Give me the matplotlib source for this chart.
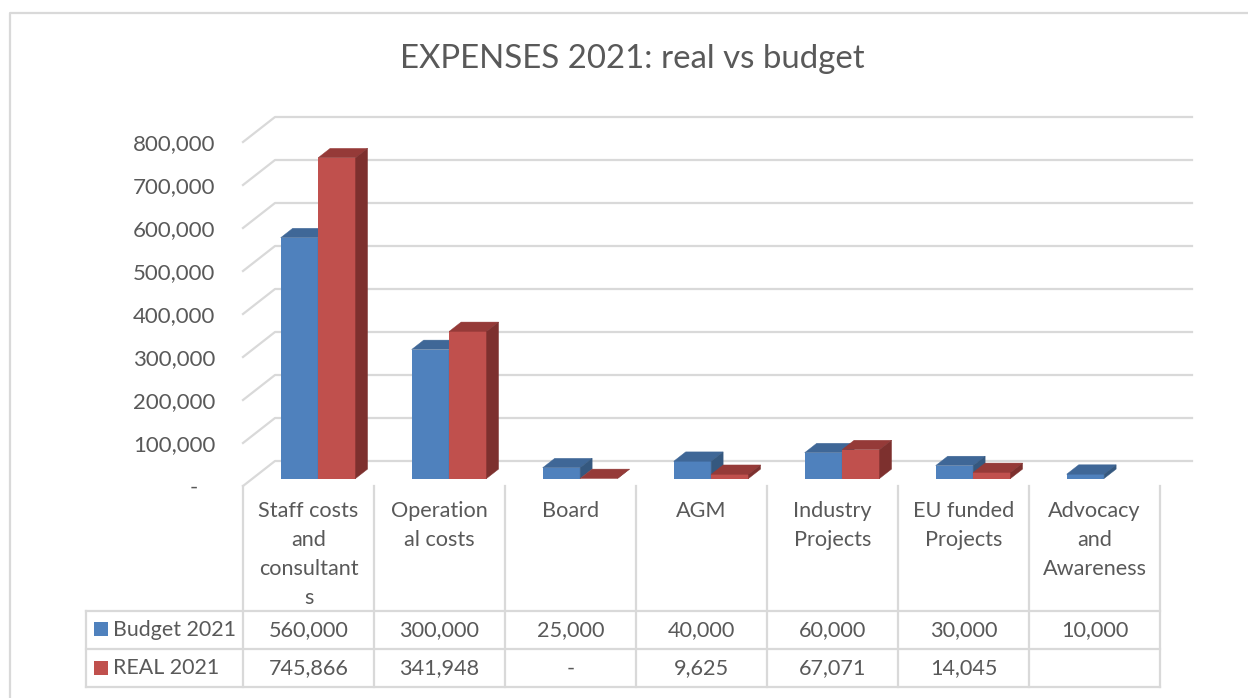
import matplotlib
matplotlib.use('Agg')
import matplotlib.pyplot as plt
from matplotlib.patches import Rectangle

plt.rcParams['font.family'] = ['Lato', 'DejaVu Sans']

# Data
categories = ['Staff costs\nand\nconsultant\ns', 'Operation\nal costs', 'Board', 'AGM',
              'Industry\nProjects', 'EU funded\nProjects', 'Advocacy\nand\nAwareness']
budget = [560000, 300000, 25000, 40000, 60000, 30000, 10000]
real = [745866, 341948, 0, 9625, 67071, 14045, None]
budget_cells = ['560,000', '300,000', '25,000', '40,000', '60,000', '30,000', '10,000']
real_cells = ['745,866', '341,948', '-', '9,625', '67,071', '14,045', '']
series_names = ['Budget 2021', 'REAL 2021']
y_ticks = [0, 100000, 200000, 300000, 400000, 500000, 600000, 700000, 800000]
y_labels = ['-   ', '100,000', '200,000', '300,000', '400,000', '500,000', '600,000', '700,000', '800,000']

W, H = 1248, 698
TEXT = '#595959'
GRID = '#d9d9d9'
BLUE = ('#4f81bd', '#3f6797', '#35587f')
RED = ('#c0504d', '#953a38', '#7d302e')
LW = 1.6

# pixel geometry of the fake 3d chart
left, right = 243, 1160
y0_px, y800_px = 486, 142
px_per_val = (y0_px - y800_px) / 800000
px_per_cat = (right - left) / len(categories)
wall_dy = 25      # depth of the walls, vertical px
slant = 32 / 25   # horizontal px per vertical px of depth
base_dy = 7.5     # bars stand this far back from the front plane
bar_dy = 9.4      # depth of a bar
bar_w = 1 / 3.5
margin = 1.5 / 3.5 / 2


def shift(x, y, dy):
    # move a data point back in depth
    return x + dy * slant / px_per_cat, y + dy / px_per_val


fig = plt.figure(figsize=(W / 100, H / 100), dpi=100)
fig.patch.set_facecolor('white')

# page layer: frame, table lines, table text
page = fig.add_axes([0, 0, 1, 1], zorder=0)
page.set_xlim(0, W)
page.set_ylim(H, 0)
page.axis('off')

page.plot([9.5, 9.5, W], [H, 12.5, 12.5], color=GRID, lw=LW)
for y in [611, 649, 687]:
    page.plot([86, right], [y, y], color=GRID, lw=LW)
page.plot([86, 86], [611, 687], color=GRID, lw=LW)
for i in range(len(categories) + 1):
    x = left + i * px_per_cat
    page.plot([x, x], [y0_px, 687], color=GRID, lw=LW)

page.text(632, 59, 'EXPENSES 2021: real vs budget', fontsize=23.8, color=TEXT, ha='center', va='center')

rows = [(budget_cells, 630.5, BLUE[0], 622, series_names[0]), (real_cells, 668.5, RED[0], 660.5, series_names[1])]
for cells, y, col, key_y, name in rows:
    page.add_patch(Rectangle((94, key_y), 14, 14, facecolor=col, edgecolor='none'))
    page.text(113, y - 1, name, fontsize=15.4, color=TEXT, ha='left', va='center')
    for i, c in enumerate(cells):
        page.text(left + (i + 0.5) * px_per_cat, y, c, fontsize=15.6, color=TEXT, ha='center', va='center')

# chart layer
ax = fig.add_axes([left / W, 1 - y0_px / H, (right - left) / W, (y0_px - y800_px) / H], zorder=1)
ax.patch.set_alpha(0)
ax.set_xlim(0, len(categories))
ax.set_ylim(0, 800000)
for s in ax.spines.values():
    s.set_visible(False)
ax.set_yticks(y_ticks)
ax.set_yticklabels(y_labels, fontsize=16, color=TEXT)
ax.set_xticks([i + 0.5 for i in range(len(categories))])
ax.set_xticklabels(categories, fontsize=15.6, color=TEXT, linespacing=1.56, va='top')
ax.tick_params(axis='y', length=0, pad=20)
ax.tick_params(axis='x', length=0, pad=11)

# gridlines on the back and side walls
for v in y_ticks:
    x1, y1 = shift(0, v, wall_dy)
    x2, y2 = shift(len(categories), v, wall_dy)
    ax.plot([0, x1, x2], [v, y1, y2], color=GRID, lw=LW, clip_on=False, zorder=1)


def draw_bars(values, offset, colors):
    base = base_dy / px_per_val
    xs, hs = [], []
    for i, v in enumerate(values):
        if v is None:
            continue
        xs.append(shift(i + margin + offset * bar_w, 0, base_dy)[0])
        hs.append(v)
    ax.bar(xs, hs, width=bar_w, bottom=base, align='edge', color=colors[0],
           edgecolor='none', clip_on=False, zorder=2 + offset)
    for x, h in zip(xs, hs):
        top = base + h
        x2 = x + bar_w
        bx, by = shift(x, top, bar_dy)
        bx2, _ = shift(x2, top, bar_dy)
        ax.fill([x, x2, bx2, bx], [top, top, by, by], color=colors[1], lw=0.3,
                clip_on=False, zorder=2 + offset)
        _, by0 = shift(x2, base, bar_dy)
        ax.fill([x2, bx2, bx2, x2], [base, by0, by, top], color=colors[2], lw=0.3,
                clip_on=False, zorder=2 + offset)


draw_bars(budget, 0, BLUE)
draw_bars(real, 1, RED)

fig.savefig('out.png', dpi=100)
